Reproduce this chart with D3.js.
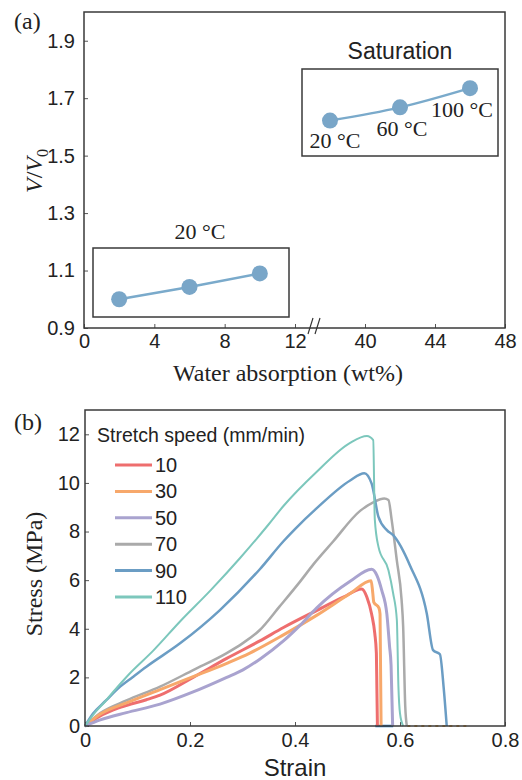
<!DOCTYPE html>
<html>
<head>
<meta charset="utf-8">
<script src="https://cdn.jsdelivr.net/npm/d3@7"></script>
<style>
  body { margin: 0; background: #fff; }
  .sans { font-family: "Liberation Sans", Arial, sans-serif; }
  .serif { font-family: "Liberation Serif", "Times New Roman", serif; }
</style>
</head>
<body>
<div id="chart"></div>
<script>
// ---- panel (a) data ----
const absorbLow = [2, 6, 10];            // wt%, 20 °C
const ratioLow = [1.0, 1.043, 1.09];
const absorbSat = [38, 42, 46];          // wt%, saturation
const ratioSat = [1.622, 1.668, 1.735];
const satLabels = ["20 °C", "60 °C", "100 °C"];
const xTicksLeft = [0, 4, 8, 12];
const xTicksRight = [40, 44, 48];
const yTicksA = [0.9, 1.1, 1.3, 1.5, 1.7, 1.9];

// ---- panel (b) data: [strain, stress MPa] ----
const speeds = ["10", "30", "50", "70", "90", "110"];
const colors = ["#ee6e6e", "#f7a86b", "#a9a3cf", "#aaaaaa", "#6b9dc4", "#7cc7bc"];
const widths = [3, 3, 3, 2.5, 2.5, 2];
const speed10 = [[0,0],[0.02,0.3],[0.054,0.66],[0.08,0.85],[0.117,1.08],[0.143,1.27],[0.206,2.0],[0.27,2.78],
  [0.333,3.5],[0.378,4.05],[0.441,4.75],[0.492,5.3],[0.527,5.64],[0.537,5.3],[0.546,4.6],[0.552,3.8],
  [0.555,3.0],[0.556,1.5],[0.557,0]];
const speed30 = [[0,0],[0.03,0.5],[0.079,0.95],[0.143,1.5],[0.206,2.03],[0.27,2.58],[0.314,3.0],[0.378,3.75],
  [0.441,4.55],[0.505,5.45],[0.545,5.98],[0.548,5.5],[0.55,5.1],[0.56,4.85],[0.562,4.6],[0.564,0]];
const speed50 = [[0,0],[0.029,0.25],[0.079,0.55],[0.143,0.9],[0.206,1.4],[0.27,2.0],[0.3,2.3],[0.333,2.75],
  [0.378,3.5],[0.41,4.15],[0.441,4.85],[0.505,5.95],[0.546,6.45],[0.556,6.2],[0.565,5.6],[0.575,4.6],
  [0.58,3.3],[0.583,2.5],[0.586,0]];
const speed70 = [[0,0],[0.029,0.53],[0.079,1.05],[0.143,1.62],[0.206,2.3],[0.27,3.0],[0.3,3.4],[0.333,3.95],
  [0.37,4.9],[0.41,5.95],[0.435,6.65],[0.473,7.6],[0.524,8.85],[0.549,9.2],[0.57,9.36],[0.578,9.3],
  [0.584,8.5],[0.594,6.8],[0.603,5.2],[0.606,4.1],[0.61,0.8],[0.613,0]];
const speed90 = [[0,0],[0.015,0.5],[0.04,1.05],[0.067,1.62],[0.09,2.0],[0.117,2.44],[0.181,3.4],[0.257,4.77],
  [0.333,6.45],[0.378,7.6],[0.4,8.1],[0.441,8.95],[0.505,10.1],[0.532,10.4],[0.546,9.97],[0.559,8.6],
  [0.575,8.06],[0.587,7.85],[0.619,6.6],[0.651,4.63],[0.663,3.12],[0.676,2.95],[0.683,1.62],[0.689,0]];
const speed110 = [[0,0],[0.015,0.45],[0.04,1.05],[0.054,1.41],[0.0825,2.1],[0.13,3.1],[0.181,4.3],[0.24,5.6],
  [0.295,6.9],[0.35,8.3],[0.378,9.05],[0.441,10.45],[0.505,11.65],[0.537,11.93],[0.549,11.76],[0.552,8.5],
  [0.559,7.37],[0.578,6.41],[0.587,5.45],[0.594,4.36],[0.597,1.62],[0.6,0.52],[0.606,0]];
const curves = [speed10, speed30, speed50, speed70, speed90, speed110];
const tailBlue = [[0.553,0],[0.587,0]];
const tailDots = [[0.614,0],[0.727,0]];
const xTicksB = [0, 0.2, 0.4, 0.6, 0.8];
const yTicksB = [0, 2, 4, 6, 8, 10, 12];

const W = 522, H = 780;
const frameColor = "#3a3a3a";

let svg = d3.select("#chart").append("svg")
  .attr("width", W).attr("height", H)
  .style("background", "#fff");

// ================= panel (a) =================
// broken x axis: two linear pieces
let xaL = d3.scaleLinear().domain([0, 12]).range([84, 295]);
let xaR = d3.scaleLinear().domain([40, 48]).range([365, 505]);
let ya = d3.scaleLinear().domain([0.9, 2.0]).range([328, 12]);

let ga = svg.append("g");

function styleAxis(g){
  g.select(".domain").remove();
  g.selectAll("line").attr("stroke", "#555");
  g.selectAll("text").attr("font-size", 20).attr("fill", "#222");
}

[[xaL, xTicksLeft], [xaR, xTicksRight]].forEach(p => {
  ga.append("g")
    .attr("transform", "translate(0,328)")
    .attr("class", "sans")
    .call(d3.axisBottom(p[0]).tickValues(p[1]).tickFormat(d3.format("d"))
      .tickSizeInner(-4).tickSizeOuter(0).tickPadding(6))
    .call(styleAxis);
});

ga.append("g")
  .attr("transform", "translate(84,0)")
  .attr("class", "sans")
  .call(d3.axisLeft(ya).tickValues(yTicksA).tickFormat(d3.format(".1f"))
    .tickSizeInner(-4).tickSizeOuter(0).tickPadding(9))
  .call(styleAxis);

ga.append("rect")
  .attr("x", 84).attr("y", 12).attr("width", 421).attr("height", 316)
  .attr("fill", "none").attr("stroke", frameColor).attr("stroke-width", 1.5);

// axis break marks
[0, 7].forEach(dx => {
  ga.append("line")
    .attr("x1", 308 + dx).attr("y1", 334).attr("x2", 313 + dx).attr("y2", 318)
    .attr("stroke", "#333").attr("stroke-width", 1.2);
});

// annotation boxes
ga.append("rect").attr("x", 93).attr("y", 248).attr("width", 196).attr("height", 69)
  .attr("fill", "none").attr("stroke", frameColor).attr("stroke-width", 1.5);
ga.append("rect").attr("x", 302).attr("y", 69).attr("width", 196).attr("height", 87)
  .attr("fill", "none").attr("stroke", frameColor).attr("stroke-width", 1.5);

let lowPts = absorbLow.map((v, i) => [xaL(v), ya(ratioLow[i])]);
let satPts = absorbSat.map((v, i) => [xaR(v), ya(ratioSat[i])]);
let lineA = d3.line().curve(d3.curveMonotoneX);

[lowPts, satPts].forEach(pts => {
  ga.append("path").datum(pts)
    .attr("d", lineA).attr("fill", "none")
    .attr("stroke", "#7aaacb").attr("stroke-width", 2.5);
  ga.selectAll(null).data(pts).enter().append("circle")
    .attr("cx", d => d[0]).attr("cy", d => d[1]).attr("r", 8)
    .attr("fill", "#79a6c8");
});

let labelOffsets = [[5, 27], [2, 29], [-8, 29]];
ga.selectAll(".satlab").data(satPts).enter().append("text")
  .attr("class", "serif")
  .attr("x", (d, i) => d[0] + labelOffsets[i][0])
  .attr("y", (d, i) => d[1] + labelOffsets[i][1])
  .attr("text-anchor", "middle").attr("font-size", 22).attr("fill", "#222")
  .text((d, i) => satLabels[i]);

ga.append("text").attr("class", "serif")
  .attr("x", 200).attr("y", 239).attr("text-anchor", "middle")
  .attr("font-size", 22).attr("fill", "#222").text("20 °C");

ga.append("text").attr("class", "sans")
  .attr("x", 400).attr("y", 59).attr("text-anchor", "middle")
  .attr("font-size", 23).attr("fill", "#222").text("Saturation");

ga.append("text").attr("class", "serif")
  .attr("x", 14).attr("y", 29).attr("font-size", 24).attr("fill", "#222").text("(a)");

ga.append("text").attr("class", "serif")
  .attr("x", 288).attr("y", 381).attr("text-anchor", "middle")
  .attr("font-size", 24).attr("fill", "#222").text("Water absorption (wt%)");

let yLabA = ga.append("text").attr("class", "serif")
  .attr("transform", "translate(42,171) rotate(-90)")
  .attr("text-anchor", "middle").attr("font-size", 24).attr("fill", "#222");
yLabA.append("tspan").attr("font-style", "italic").text("V");
yLabA.append("tspan").text("/");
yLabA.append("tspan").attr("font-style", "italic").text("V");
yLabA.append("tspan").attr("font-size", 16).attr("dy", 6).text("0");

// ================= panel (b) =================
let xb = d3.scaleLinear().domain([0, 0.8]).range([85, 505]);
let yb = d3.scaleLinear().domain([0, 13]).range([726, 410]);

let gb = svg.append("g");

gb.append("g")
  .attr("transform", "translate(0,726)")
  .attr("class", "sans")
  .call(d3.axisBottom(xb).tickValues(xTicksB).tickFormat(d => d === 0 ? "0" : d3.format(".1f")(d))
    .tickSizeInner(-4).tickSizeOuter(0).tickPadding(7))
  .call(styleAxis);

gb.append("g")
  .attr("transform", "translate(85,0)")
  .attr("class", "sans")
  .call(d3.axisLeft(yb).tickValues(yTicksB).tickFormat(d3.format("d"))
    .tickSizeInner(-4).tickSizeOuter(0).tickPadding(5))
  .call(styleAxis);

let lineB = d3.line().x(d => xb(d[0])).y(d => yb(d[1])).curve(d3.curveMonotoneX);

gb.append("path").datum(tailDots).attr("d", lineB).attr("fill", "none")
  .attr("stroke", "#e0a040").attr("stroke-width", 2).attr("stroke-dasharray", "3,4");
gb.append("path").datum(tailBlue).attr("d", lineB).attr("fill", "none")
  .attr("stroke", "#2a78c0").attr("stroke-width", 2.5);

// draw order so teal/blue sit on top like the reference
[3, 0, 1, 2, 4, 5].forEach(i => {
  gb.append("path").datum(curves[i])
    .attr("d", lineB).attr("fill", "none")
    .attr("stroke", colors[i]).attr("stroke-width", widths[i])
    .attr("stroke-linejoin", "round");
});

gb.append("rect")
  .attr("x", 85).attr("y", 410).attr("width", 420).attr("height", 316)
  .attr("fill", "none").attr("stroke", frameColor).attr("stroke-width", 1.5);

// legend
gb.append("text").attr("class", "sans")
  .attr("x", 97).attr("y", 442).attr("font-size", 19.5).attr("fill", "#222")
  .text("Stretch speed (mm/min)");

let leg = gb.selectAll(".leg").data(speeds).enter().append("g")
  .attr("transform", (d, i) => "translate(0," + (465 + i * 26.4) + ")");
leg.append("line")
  .attr("x1", 115).attr("x2", 152).attr("y1", 0).attr("y2", 0)
  .attr("stroke", (d, i) => colors[i]).attr("stroke-width", 3);
leg.append("text").attr("class", "sans")
  .attr("x", 155).attr("y", 7).attr("font-size", 20).attr("fill", "#222")
  .text(d => d);

gb.append("text").attr("class", "serif")
  .attr("x", 14).attr("y", 430).attr("font-size", 24).attr("fill", "#222").text("(b)");

gb.append("text").attr("class", "sans")
  .attr("x", 295).attr("y", 776).attr("text-anchor", "middle")
  .attr("font-size", 24).attr("fill", "#222").text("Strain");

gb.append("text").attr("class", "serif")
  .attr("transform", "translate(42,574) rotate(-90)")
  .attr("text-anchor", "middle").attr("font-size", 24).attr("fill", "#222")
  .text("Stress (MPa)");
</script>
</body>
</html>
